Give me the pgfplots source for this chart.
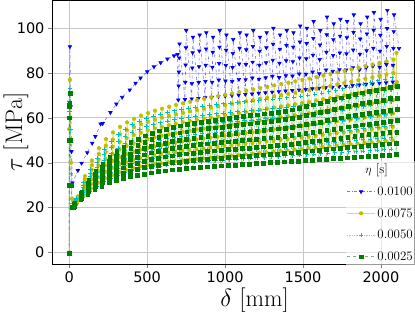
\documentclass[border=0pt]{standalone}
\usepackage{pgfplots}
\pgfplotsset{compat=1.18}
\usepackage{fontspec}
\newfontfamily\dejavu{DejaVu Sans}
\usetikzlibrary{calc}
\definecolor{mb}{rgb}{0,0,1}
\definecolor{my}{rgb}{0.75,0.75,0}
\definecolor{mc}{rgb}{0,0.75,0.75}
\definecolor{mg}{rgb}{0,0.5,0}
\begin{document}
\begin{tikzpicture}
\begin{axis}[name=ax,
  scale only axis, width=362pt, height=264pt,
  xmin=-110, xmax=2212, ymin=-5.2, ymax=112.6,
  xtick={0,500,1000,1500,2000}, ytick={0,20,40,60,80,100},
  /pgf/number format/1000 sep={},
  /pgf/number format/assume math mode=true,
  tick label style={font=\dejavu\fontsize{14.5}{16}\selectfont},
  tick align=outside, major tick length=4pt, xtick pos=left, ytick pos=left,
  grid=major, major grid style={black!22, line width=0.9pt},
  axis line style={black, line width=0.9pt},
  xlabel={$\delta\ [\mathrm{mm}]$}, ylabel={$\tau\ [\mathrm{MPa}]$},
  label style={font=\fontsize{24}{27}\selectfont},
  xlabel style={at={(axis description cs:0.56,-0.162)}, anchor=base},
  ylabel style={at={(axis description cs:-0.0994,0.5)}, anchor=center},
  legend style={at={(rel axis cs:1,0)}, xshift=2pt, yshift=-1pt, anchor=south east, draw=none, fill=white, fill opacity=0.6, text opacity=1,
    font=\fontsize{13}{15}\selectfont, row sep=7.5pt, inner sep=1pt},
  legend cell align=left,
  legend image code/.code={\draw[mark repeat=2,mark phase=2] plot coordinates {(0pt,0pt) (14pt,0pt) (28pt,0pt)};},
]
\addlegendimage{empty legend}
\addlegendentry{\hspace{-12pt}$\eta$ [s]}
% eta = 0.0100
\addplot[color=mb, dash dot, line width=0.6pt, draw opacity=0.55, mark=triangle*, mark size=2pt,
  mark options={solid, rotate=180, draw opacity=1, fill opacity=1}] coordinates {
(0,-0.3) (1,66) (2,67) (5,91.8) (10,65) (15,45) (21,31)
(56,36.5) (80,39.8) (116,44.5) (148,48.7) (168,51.7) (202,57.3) (215,57.5) (265,62.4) (303,66.2)
(340,69.2) (389,72.5) (426,75.5) (458,77.8) (501,80.6) (544,82.8) (587,84.6) (630,86.3) (673,87.7) (695,88.3)
(700,68) (702,74.3) (704,80.5) (706,86.8) (708,93)
(743,68.2) (745,75.9) (747,83.6) (749,91.3) (751,99)
(786,68.5) (788,75.4) (790,82.3) (792,89.1) (794,96)
(829,68.7) (831,75.8) (833,82.9) (835,89.9) (837,97)
(872,69) (874,76.3) (876,83.5) (878,90.8) (880,98)
(915,69.2) (917,75.9) (919,82.6) (921,89.3) (923,96)
(958,69.5) (960,76.9) (962,84.3) (964,91.6) (966,99)
(1001,69.7) (1003,76.5) (1005,83.4) (1007,90.2) (1009,97)
(1044,70) (1046,76.3) (1048,82.5) (1050,88.8) (1052,95)
(1087,70.2) (1089,77.2) (1091,84.1) (1093,91.1) (1095,98)
(1130,70.5) (1132,77.1) (1134,83.8) (1136,90.4) (1138,97)
(1173,70.7) (1175,77.8) (1177,84.9) (1179,91.9) (1181,99)
(1216,71) (1218,77.3) (1220,83.5) (1222,89.8) (1224,96)
(1259,71.2) (1261,77.9) (1263,84.6) (1265,91.3) (1267,98)
(1302,71.5) (1304,78.6) (1306,85.8) (1308,92.9) (1310,100)
(1345,71.7) (1347,78) (1349,84.4) (1351,90.7) (1353,97)
(1388,72) (1390,78.8) (1392,85.5) (1394,92.3) (1396,99)
(1431,72.2) (1433,78.7) (1435,85.1) (1437,91.6) (1439,98)
(1474,72.5) (1476,79.6) (1478,86.8) (1480,93.9) (1482,101)
(1517,72.7) (1519,79.5) (1521,86.4) (1523,93.2) (1525,100)
(1560,73) (1562,80.5) (1564,88) (1566,95.5) (1568,103)
(1603,73.2) (1605,79.7) (1607,86.1) (1609,92.6) (1611,99)
(1646,73.5) (1648,81.4) (1650,89.3) (1652,97.1) (1654,105)
(1689,73.7) (1691,80.8) (1693,87.9) (1695,94.9) (1697,102)
(1732,74) (1734,81.5) (1736,89) (1738,96.5) (1740,104)
(1775,74.2) (1777,81.4) (1779,88.6) (1781,95.8) (1783,103)
(1818,74.5) (1820,82.4) (1822,90.3) (1824,98.1) (1826,106)
(1861,74.7) (1863,81.5) (1865,88.4) (1867,95.2) (1869,102)
(1904,75) (1906,82.5) (1908,90) (1910,97.5) (1912,105)
(1947,75.2) (1949,83.2) (1951,91.1) (1953,99.1) (1955,107)
(1990,75.5) (1992,82.6) (1994,89.8) (1996,96.9) (1998,104)
(2033,75.7) (2035,83.8) (2037,91.9) (2039,99.9) (2041,108)
(2076,76) (2078,83.5) (2080,91) (2082,98.5) (2084,106)
(2116,91)
};
\addlegendentry{0.0100}
% eta = 0.0075
\addplot[color=my, solid, line width=0.6pt, draw opacity=0.55, mark=pentagon*, mark size=1.9pt,
  mark options={solid, draw opacity=1, fill opacity=1}] coordinates {
(0,-0.3) (0,55) (2,65) (5,77) (8,60) (12,40) (18,24) (25,23)
(50,22) (51,22.5) (52,23) (53,23.5) (54,24) (55,24.5) (56,25)
(95,25.5) (96,26.9) (97,28.3) (98,29.8) (99,31.2) (100,32.6) (101,34)
(140,28.5) (141,30.6) (142,32.7) (143,34.8) (144,36.8) (145,38.9) (146,41)
(185,31) (186,33.6) (187,36.2) (188,38.8) (189,41.3) (190,43.9) (191,46.5)
(230,33) (231,35.9) (232,38.8) (233,41.8) (234,44.7) (235,47.6) (236,50.5)
(275,34.5) (276,37.7) (277,40.8) (278,44) (279,47.2) (280,50.3) (281,53.5)
(320,35.8) (321,39.2) (322,42.5) (323,45.9) (324,49.3) (325,52.6) (326,56)
(365,36.8) (366,40.3) (367,43.9) (368,47.4) (369,50.9) (370,54.5) (371,58)
(410,37.6) (411,41.3) (412,44.9) (413,48.6) (414,52.3) (415,55.9) (416,59.6)
(455,38.3) (456,42.1) (457,45.9) (458,49.7) (459,53.4) (460,57.2) (461,61)
(500,38.9) (501,42.8) (502,46.7) (503,50.6) (504,54.4) (505,58.3) (506,62.2)
(545,39.4) (546,43.4) (547,47.3) (548,51.3) (549,55.3) (550,59.2) (551,63.2)
(590,39.8) (591,43.9) (592,47.9) (593,52) (594,56) (595,60.1) (596,64.1)
(635,40.2) (636,44.3) (637,48.5) (638,52.6) (639,56.7) (640,60.9) (641,65)
(680,40.6) (681,44.8) (682,49) (683,53.2) (684,57.4) (685,61.6) (686,65.8)
(725,41) (726,45.3) (727,49.5) (728,53.8) (729,58) (730,62.3) (731,66.5)
(770,41.3) (771,45.6) (772,49.9) (773,54.3) (774,58.6) (775,62.9) (776,67.2)
(815,41.6) (816,46) (817,50.4) (818,54.8) (819,59.1) (820,63.5) (821,67.9)
(860,41.9) (861,46.3) (862,50.8) (863,55.2) (864,59.6) (865,64.1) (866,68.5)
(905,42.2) (906,46.7) (907,51.2) (908,55.7) (909,60.1) (910,64.6) (911,69.1)
(950,42.5) (951,47) (952,51.6) (953,56.1) (954,60.6) (955,65.2) (956,69.7)
(995,42.8) (996,47.4) (997,52) (998,56.6) (999,61.1) (1000,65.7) (1001,70.3)
(1040,43.1) (1041,47.7) (1042,52.4) (1043,57) (1044,61.6) (1045,66.3) (1046,70.9)
(1085,43.4) (1086,48.1) (1087,52.8) (1088,57.5) (1089,62.1) (1090,66.8) (1091,71.5)
(1130,43.7) (1131,48.4) (1132,53.2) (1133,57.9) (1134,62.6) (1135,67.4) (1136,72.1)
(1175,44) (1176,48.8) (1177,53.6) (1178,58.4) (1179,63.1) (1180,67.9) (1181,72.7)
(1220,44.3) (1221,49.1) (1222,54) (1223,58.8) (1224,63.6) (1225,68.5) (1226,73.3)
(1265,44.6) (1266,49.5) (1267,54.4) (1268,59.3) (1269,64.1) (1270,69) (1271,73.9)
(1310,44.9) (1311,49.8) (1312,54.8) (1313,59.7) (1314,64.6) (1315,69.6) (1316,74.5)
(1355,45.2) (1356,50.2) (1357,55.2) (1358,60.2) (1359,65.1) (1360,70.1) (1361,75.1)
(1400,45.5) (1401,50.5) (1402,55.6) (1403,60.6) (1404,65.6) (1405,70.7) (1406,75.7)
(1445,45.8) (1446,50.9) (1447,56) (1448,61.1) (1449,66.1) (1450,71.2) (1451,76.3)
(1490,46.1) (1491,51.2) (1492,56.4) (1493,61.5) (1494,66.6) (1495,71.8) (1496,76.9)
(1535,46.4) (1536,51.6) (1537,56.8) (1538,62) (1539,67.1) (1540,72.3) (1541,77.5)
(1580,46.7) (1581,52) (1582,57.2) (1583,62.5) (1584,67.7) (1585,73) (1586,78.2)
(1625,47) (1626,52.3) (1627,57.6) (1628,63) (1629,68.3) (1630,73.6) (1631,78.9)
(1670,47.3) (1671,52.7) (1672,58.1) (1673,63.5) (1674,68.8) (1675,74.2) (1676,79.6)
(1715,47.6) (1716,53.1) (1717,58.5) (1718,64) (1719,69.4) (1720,74.9) (1721,80.3)
(1760,47.9) (1761,53.4) (1762,58.9) (1763,64.5) (1764,70) (1765,75.5) (1766,81)
(1805,48.2) (1806,53.8) (1807,59.4) (1808,65) (1809,70.5) (1810,76.1) (1811,81.7)
(1850,48.5) (1851,54.2) (1852,59.8) (1853,65.5) (1854,71.1) (1855,76.8) (1856,82.4)
(1895,48.8) (1896,54.5) (1897,60.2) (1898,66) (1899,71.7) (1900,77.4) (1901,83.1)
(1940,49.1) (1941,54.9) (1942,60.7) (1943,66.5) (1944,72.2) (1945,78) (1946,83.8)
(1985,49.4) (1986,55.3) (1987,61.1) (1988,67) (1989,72.8) (1990,78.7) (1991,84.5)
(2030,49.7) (2031,55.6) (2032,61.5) (2033,67.5) (2034,73.4) (2035,79.3) (2036,85.2)
(2075,50) (2076,56) (2077,62) (2078,68) (2079,74) (2080,80) (2081,86)
(2098,75) (2100,89) (2102,76)
};
\addlegendentry{0.0075}
% eta = 0.0050
\addplot[color=mc, densely dotted, line width=0.7pt, draw opacity=0.55, mark=+, mark size=2.2pt,
  mark options={solid, line width=1pt, draw opacity=1}] coordinates {
(0,-0.3) (0,50) (2,63) (5,73) (8,55) (12,35) (20,22)
(40,21) (41,21.5) (42,22) (43,22.5) (44,23) (45,23.5) (46,24)
(85,24.5) (86,25.6) (87,26.7) (88,27.8) (89,28.8) (90,29.9) (91,31)
(130,27) (131,28.7) (132,30.3) (133,32) (134,33.7) (135,35.3) (136,37)
(175,29.5) (176,31.6) (177,33.7) (178,35.8) (179,37.8) (180,39.9) (181,42)
(220,31.5) (221,33.9) (222,36.3) (223,38.8) (224,41.2) (225,43.6) (226,46)
(265,33) (266,35.8) (267,38.5) (268,41.3) (269,44) (270,46.8) (271,49.5)
(310,34.5) (311,37.5) (312,40.5) (313,43.5) (314,46.5) (315,49.5) (316,52.5)
(355,35.5) (356,38.8) (357,42) (358,45.3) (359,48.5) (360,51.8) (361,55)
(400,36.3) (401,39.8) (402,43.2) (403,46.7) (404,50.1) (405,53.6) (406,57)
(445,37) (446,40.6) (447,44.2) (448,47.8) (449,51.3) (450,54.9) (451,58.5)
(490,37.6) (491,41.3) (492,45) (493,48.7) (494,52.4) (495,56.1) (496,59.8)
(535,38.1) (536,41.9) (537,45.7) (538,49.5) (539,53.2) (540,57) (541,60.8)
(580,38.5) (581,42.4) (582,46.2) (583,50.1) (584,54) (585,57.8) (586,61.7)
(625,38.9) (626,42.8) (627,46.8) (628,50.7) (629,54.6) (630,58.6) (631,62.5)
(670,39.3) (671,43.3) (672,47.3) (673,51.3) (674,55.2) (675,59.2) (676,63.2)
(715,39.6) (716,43.6) (717,47.7) (718,51.7) (719,55.7) (720,59.8) (721,63.8)
(760,39.9) (761,44) (762,48) (763,52.1) (764,56.2) (765,60.2) (766,64.3)
(805,40.2) (806,44.3) (807,48.4) (808,52.5) (809,56.6) (810,60.7) (811,64.8)
(850,40.5) (851,44.6) (852,48.7) (853,52.9) (854,57) (855,61.1) (856,65.2)
(895,40.8) (896,44.9) (897,49.1) (898,53.2) (899,57.3) (900,61.5) (901,65.6)
(940,41) (941,45.2) (942,49.3) (943,53.5) (944,57.7) (945,61.8) (946,66)
(985,41.2) (986,45.4) (987,49.6) (988,53.8) (989,57.9) (990,62.1) (991,66.3)
(1030,41.4) (1031,45.6) (1032,49.8) (1033,54) (1034,58.2) (1035,62.4) (1036,66.6)
(1075,41.6) (1076,45.8) (1077,50) (1078,54.3) (1079,58.5) (1080,62.7) (1081,66.9)
(1120,41.8) (1121,46) (1122,50.3) (1123,54.5) (1124,58.7) (1125,63) (1126,67.2)
(1165,42) (1166,46.3) (1167,50.5) (1168,54.8) (1169,59) (1170,63.3) (1171,67.5)
(1210,42.2) (1211,46.5) (1212,50.7) (1213,55) (1214,59.3) (1215,63.5) (1216,67.8)
(1255,42.4) (1256,46.7) (1257,51) (1258,55.3) (1259,59.5) (1260,63.8) (1261,68.1)
(1300,42.6) (1301,46.9) (1302,51.2) (1303,55.5) (1304,59.8) (1305,64.1) (1306,68.4)
(1345,42.8) (1346,47.1) (1347,51.4) (1348,55.8) (1349,60.1) (1350,64.4) (1351,68.7)
(1390,43) (1391,47.3) (1392,51.7) (1393,56) (1394,60.3) (1395,64.7) (1396,69)
(1435,43.2) (1436,47.6) (1437,51.9) (1438,56.3) (1439,60.6) (1440,65) (1441,69.3)
(1480,43.4) (1481,47.8) (1482,52.2) (1483,56.6) (1484,60.9) (1485,65.3) (1486,69.7)
(1525,43.6) (1526,48) (1527,52.4) (1528,56.9) (1529,61.3) (1530,65.7) (1531,70.1)
(1570,43.8) (1571,48.3) (1572,52.7) (1573,57.2) (1574,61.7) (1575,66.1) (1576,70.6)
(1615,44) (1616,48.5) (1617,53) (1618,57.6) (1619,62.1) (1620,66.6) (1621,71.1)
(1660,44.2) (1661,48.8) (1662,53.4) (1663,58) (1664,62.5) (1665,67.1) (1666,71.7)
(1705,44.4) (1706,49.1) (1707,53.7) (1708,58.4) (1709,63) (1710,67.7) (1711,72.3)
(1750,44.6) (1751,49.3) (1752,54.1) (1753,58.8) (1754,63.5) (1755,68.3) (1756,73)
(1795,44.8) (1796,49.6) (1797,54.4) (1798,59.3) (1799,64.1) (1800,68.9) (1801,73.7)
(1840,45) (1841,49.9) (1842,54.8) (1843,59.7) (1844,64.6) (1845,69.5) (1846,74.4)
(1885,45.2) (1886,50.2) (1887,55.2) (1888,60.2) (1889,65.1) (1890,70.1) (1891,75.1)
(1930,45.4) (1931,50.5) (1932,55.5) (1933,60.6) (1934,65.7) (1935,70.7) (1936,75.8)
(1975,45.6) (1976,50.8) (1977,55.9) (1978,61.1) (1979,66.2) (1980,71.4) (1981,76.5)
(2020,45.8) (2021,51) (2022,56.3) (2023,61.5) (2024,66.7) (2025,72) (2026,77.2)
(2065,46) (2066,51.3) (2067,56.6) (2068,61.9) (2069,67.2) (2070,72.5) (2071,77.8)
};
\addlegendentry{0.0050}
% eta = 0.0025
\addplot[color=mg, dashed, line width=0.6pt, draw opacity=0.55, mark=square*, mark size=1.9pt,
  mark options={solid, draw opacity=1, fill opacity=1}] coordinates {
(0,-0.3) (0,30) (1,50) (2,60) (3,65) (4,66.5) (5,71) (8,50) (12,30) (21,20)
(30,20) (31,20.3) (32,20.7) (33,21) (34,21.3) (35,21.7) (36,22)
(75,23.5) (76,24.1) (77,24.7) (78,25.3) (79,25.8) (80,26.4) (81,27)
(120,26) (121,27) (122,28) (123,29) (124,30) (125,31) (126,32)
(165,28) (166,29.3) (167,30.7) (168,32) (169,33.3) (170,34.7) (171,36)
(210,29.5) (211,31.2) (212,32.8) (213,34.5) (214,36.2) (215,37.8) (216,39.5)
(255,31) (256,32.9) (257,34.8) (258,36.8) (259,38.7) (260,40.6) (261,42.5)
(300,32) (301,34.2) (302,36.3) (303,38.5) (304,40.7) (305,42.8) (306,45)
(345,33) (346,35.3) (347,37.7) (348,40) (349,42.3) (350,44.7) (351,47)
(390,33.8) (391,36.3) (392,38.9) (393,41.4) (394,43.9) (395,46.5) (396,49)
(435,34.5) (436,37.2) (437,39.8) (438,42.5) (439,45.2) (440,47.8) (441,50.5)
(480,35) (481,37.8) (482,40.7) (483,43.5) (484,46.3) (485,49.2) (486,52)
(525,35.5) (526,38.5) (527,41.4) (528,44.4) (529,47.3) (530,50.3) (531,53.2)
(570,36) (571,39) (572,42.1) (573,45.1) (574,48.1) (575,51.2) (576,54.2)
(615,36.4) (616,39.5) (617,42.6) (618,45.7) (619,48.8) (620,51.9) (621,55)
(660,36.8) (661,40) (662,43.1) (663,46.3) (664,49.5) (665,52.6) (666,55.8)
(705,37.1) (706,40.3) (707,43.6) (708,46.8) (709,50) (710,53.3) (711,56.5)
(750,37.4) (751,40.7) (752,44) (753,47.3) (754,50.5) (755,53.8) (756,57.1)
(795,37.7) (796,41) (797,44.3) (798,47.7) (799,51) (800,54.3) (801,57.6)
(840,38) (841,41.4) (842,44.7) (843,48.1) (844,51.4) (845,54.8) (846,58.1)
(885,38.2) (886,41.6) (887,45) (888,48.4) (889,51.8) (890,55.2) (891,58.6)
(930,38.4) (931,41.8) (932,45.3) (933,48.7) (934,52.1) (935,55.6) (936,59)
(975,38.6) (976,42.1) (977,45.5) (978,49) (979,52.5) (980,55.9) (981,59.4)
(1020,38.8) (1021,42.3) (1022,45.8) (1023,49.3) (1024,52.8) (1025,56.3) (1026,59.8)
(1065,39) (1066,42.5) (1067,46.1) (1068,49.6) (1069,53.1) (1070,56.7) (1071,60.2)
(1110,39.2) (1111,42.8) (1112,46.3) (1113,49.9) (1114,53.5) (1115,57) (1116,60.6)
(1155,39.4) (1156,43) (1157,46.6) (1158,50.2) (1159,53.8) (1160,57.4) (1161,61)
(1200,39.6) (1201,43.2) (1202,46.9) (1203,50.5) (1204,54.1) (1205,57.8) (1206,61.4)
(1245,39.8) (1246,43.5) (1247,47.1) (1248,50.8) (1249,54.5) (1250,58.1) (1251,61.8)
(1290,40) (1291,43.7) (1292,47.4) (1293,51.1) (1294,54.8) (1295,58.5) (1296,62.2)
(1335,40.2) (1336,43.9) (1337,47.7) (1338,51.4) (1339,55.1) (1340,58.9) (1341,62.6)
(1380,40.4) (1381,44.2) (1382,47.9) (1383,51.7) (1384,55.5) (1385,59.2) (1386,63)
(1425,40.6) (1426,44.4) (1427,48.3) (1428,52.1) (1429,55.9) (1430,59.8) (1431,63.6)
(1470,40.8) (1471,44.7) (1472,48.6) (1473,52.6) (1474,56.5) (1475,60.4) (1476,64.3)
(1515,41) (1516,45) (1517,49) (1518,53) (1519,57) (1520,61) (1521,65)
(1560,41.2) (1561,45.3) (1562,49.4) (1563,53.5) (1564,57.6) (1565,61.7) (1566,65.8)
(1605,41.4) (1606,45.6) (1607,49.8) (1608,54) (1609,58.2) (1610,62.4) (1611,66.6)
(1650,41.6) (1651,45.9) (1652,50.2) (1653,54.5) (1654,58.8) (1655,63.1) (1656,67.4)
(1695,41.8) (1696,46.2) (1697,50.6) (1698,55) (1699,59.4) (1700,63.8) (1701,68.2)
(1740,42) (1741,46.5) (1742,51) (1743,55.5) (1744,60) (1745,64.5) (1746,69)
(1785,42.2) (1786,46.8) (1787,51.4) (1788,56) (1789,60.6) (1790,65.2) (1791,69.8)
(1830,42.4) (1831,47.1) (1832,51.8) (1833,56.5) (1834,61.1) (1835,65.8) (1836,70.5)
(1875,42.6) (1876,47.4) (1877,52.1) (1878,56.9) (1879,61.7) (1880,66.4) (1881,71.2)
(1920,42.8) (1921,47.6) (1922,52.5) (1923,57.3) (1924,62.1) (1925,67) (1926,71.8)
(1965,43) (1966,47.9) (1967,52.8) (1968,57.7) (1969,62.6) (1970,67.5) (1971,72.4)
(2010,43.2) (2011,48.2) (2012,53.1) (2013,58.1) (2014,63.1) (2015,68) (2016,73)
(2055,43.4) (2056,48.4) (2057,53.5) (2058,58.5) (2059,63.5) (2060,68.6) (2061,73.6)
(2100,43.6) (2101,48.7) (2102,53.7) (2103,58.8) (2104,63.9) (2105,68.9) (2106,74)
};
\addlegendentry{0.0025}
\end{axis}
\pgfresetboundingbox
\path[use as bounding box] ($(ax.south west)+(-52pt,-48pt)$) rectangle ($(ax.north east)+(1pt,0pt)$);
\end{tikzpicture}
\end{document}
